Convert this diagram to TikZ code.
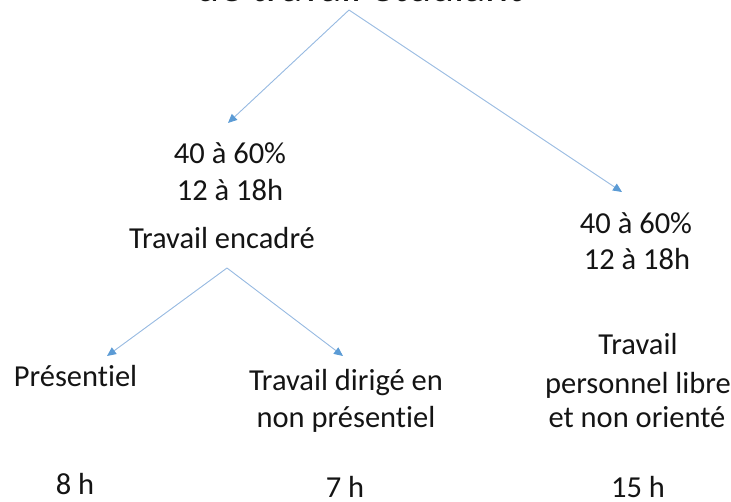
\documentclass[tikz,border=0pt]{standalone}
\usepackage{fontspec}
\setmainfont{Carlito}[RawFeature={-liga}]
\usetikzlibrary{arrows.meta}
\definecolor{linecol}{RGB}{150,185,225}
\definecolor{tipcol}{RGB}{91,155,213}
\definecolor{txtcol}{RGB}{20,20,20}
\begin{document}
\begin{tikzpicture}[x=1pt,y=-1pt,
  lbl/.style={anchor=base,inner sep=0pt,text=txtcol,font=\fontsize{30.5}{36}\selectfont},
  ttl/.style={anchor=base,inner sep=0pt,text=txtcol,font=\fontsize{44}{52}\selectfont},
  arr/.style={draw=linecol,line width=0.9pt,-{Triangle[length=9pt,width=8pt,fill=tipcol,color=tipcol]}}]
\useasboundingbox (0,0) rectangle (731,501);
\begin{scope}
\clip (0,0) rectangle (731,501);
\node[ttl] (title) at (360,1) {de travail étudiant};
\end{scope}
% left branch
\node[lbl] (lp) at (230,163) {40 à 60\%};
\node[lbl] (lh) at (230,200) {12 à 18h};
\node[lbl] (enc) at (222,248) {Travail encadré};
% right branch
\node[lbl] (rp) at (636,233) {40 à 60\%};
\node[lbl] (rh) at (637,269) {12 à 18h};
% bottom row
\node[lbl] (pres) at (75.5,386) {Présentiel};
\node[lbl] (dir1) at (346,390) {Travail dirigé en};
\node[lbl] (dir2) at (346,427) {non présentiel};
\node[lbl] (lib1) at (638,354) {Travail};
\node[lbl] (lib2) at (638,393) {personnel libre};
\node[lbl] (lib3) at (637,427) {et non orienté};
\node[lbl] (h8) at (75,494) {8 h};
\node[lbl] (h7) at (345,497) {7 h};
\node[lbl] (h15) at (638,497) {15 h};
% connectors
\coordinate (apex) at (349,10);
\coordinate (tipL) at (228,123);
\coordinate (tipR) at (622,192);
\coordinate (sub) at (227,268);
\coordinate (tipP) at (107,356);
\coordinate (tipD) at (343,356);
\draw[arr] (apex) -- (tipL);
\draw[arr] (apex) -- (tipR);
\draw[arr] (sub) -- (tipP);
\draw[arr] (sub) -- (tipD);
\end{tikzpicture}
\end{document}
